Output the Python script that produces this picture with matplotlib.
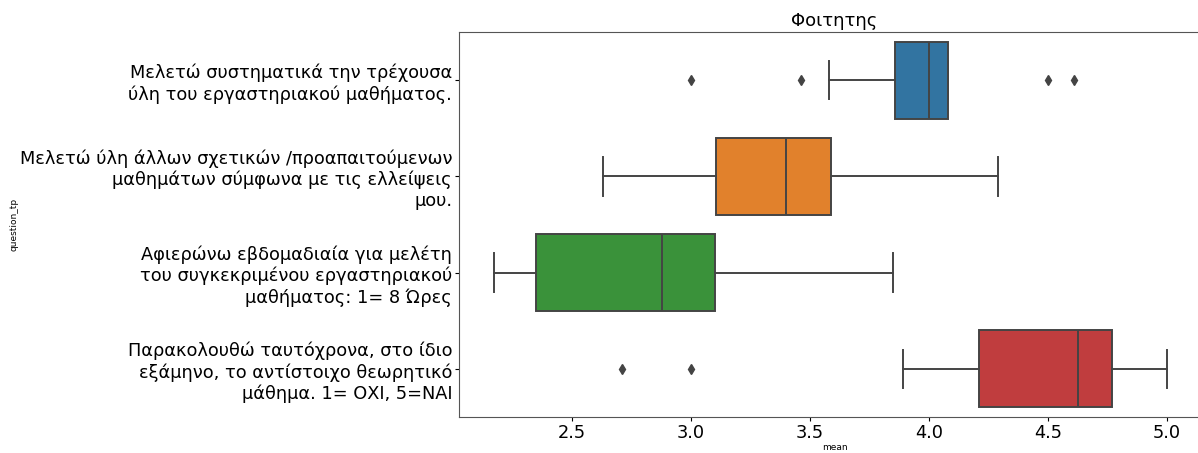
import matplotlib
matplotlib.use("Agg")
import matplotlib.pyplot as plt

# Boxplot statistics
questions = [
    "Μελετώ συστηματικά την τρέχουσα\nύλη του εργαστηριακού μαθήματος.",
    "Μελετώ ύλη άλλων σχετικών /προαπαιτούμενων\nμαθημάτων σύμφωνα με τις ελλείψεις\nμου.",
    "Αφιερώνω εβδομαδιαία για μελέτη\nτου συγκεκριμένου εργαστηριακού\nμαθήματος: 1= 8 Ώρες",
    "Παρακολουθώ ταυτόχρονα, στο ίδιο\nεξάμηνο, το αντίστοιχο θεωρητικό\nμάθημα. 1= ΟΧΙ, 5=ΝΑΙ",
]
whisker_low = [3.58, 2.63, 2.17, 3.89]
q1 = [3.857, 3.105, 2.35, 4.21]
median = [4.0, 3.40, 2.88, 4.625]
q3 = [4.08, 3.59, 3.10, 4.77]
whisker_high = [4.08, 4.29, 3.85, 5.0]
outliers = [[3.0, 3.46, 4.5, 4.61], [], [], [2.71, 3.0]]

colors = ["#3274a1", "#e1812c", "#3a923a", "#c03d3e"]
line_color = "#444444"

stats = []
for i in range(len(questions)):
    stats.append({
        "whislo": whisker_low[i], "q1": q1[i], "med": median[i],
        "q3": q3[i], "whishi": whisker_high[i], "fliers": outliers[i],
    })

fig = plt.figure(figsize=(11.98, 4.53), dpi=100)
# the right spine falls just outside the picture, as in the reference
ax = fig.add_axes([459 / 1198, 1 - 417 / 453, (1210 - 459) / 1198, (417 - 32) / 453])

positions = list(range(len(questions)))
bp = ax.bxp(
    stats, positions=positions, vert=False, widths=0.8, patch_artist=True,
    boxprops=dict(edgecolor=line_color, linewidth=1.4),
    medianprops=dict(color=line_color, linewidth=1.4),
    whiskerprops=dict(color=line_color, linewidth=1.4),
    capprops=dict(color=line_color, linewidth=1.4),
    flierprops=dict(marker="d", markersize=5, markerfacecolor=line_color,
                    markeredgecolor=line_color, linestyle="none"),
)
for patch, c in zip(bp["boxes"], colors):
    patch.set_facecolor(c)

ax.set_xlim(2.025, 2.025 + (1210 - 459) / 238)
ax.set_ylim(3.5, -0.5)
ax.set_yticks(positions)
ax.set_yticklabels(questions, fontsize=12.8, ha="right")
ax.tick_params(axis="y", pad=2, length=3)
ax.tick_params(axis="x", labelsize=12.8, pad=2, length=3)
ax.set_xticks([2.5, 3.0, 3.5, 4.0, 4.5, 5.0])
ax.set_xticklabels(["2.5", "3.0", "3.5", "4.0", "4.5", "5.0"])
ax.set_xlabel("mean", fontsize=6.5, labelpad=1)
ax.set_ylabel("question_tp", fontsize=6.5)
ax.yaxis.set_label_coords(-0.595 * 741 / 751, 0.5)
ax.set_title("Φοιτητης", fontsize=13, pad=4)

for s in ax.spines.values():
    s.set_color("#555555")

fig.savefig("out.png", dpi=100)
